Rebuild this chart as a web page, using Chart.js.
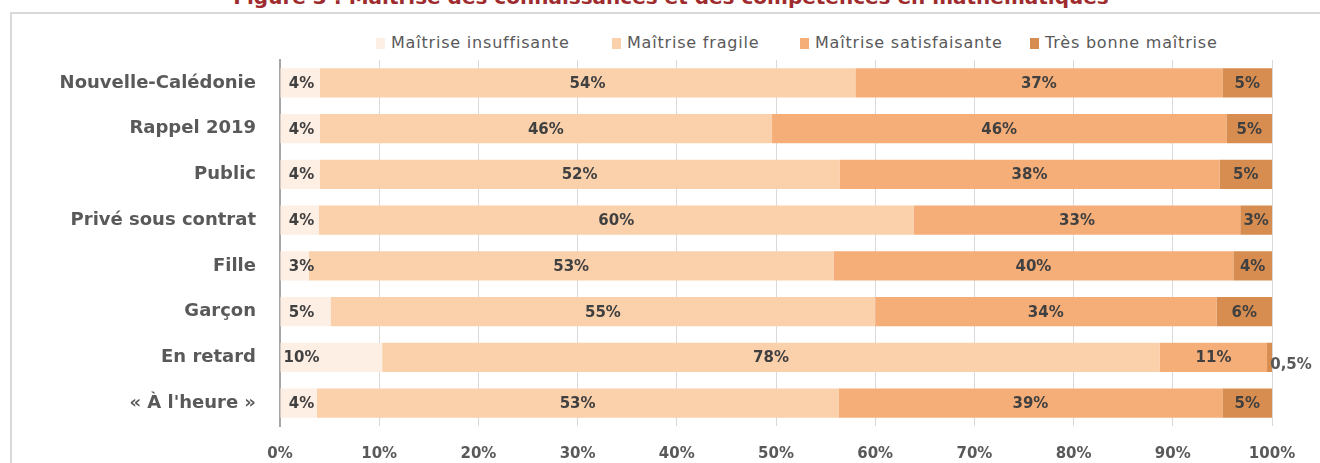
<!DOCTYPE html>
<html lang="fr">
<head>
<meta charset="utf-8">
<script src="https://cdn.jsdelivr.net/npm/chart.js@4.4.1/dist/chart.umd.min.js"></script>
<style>
  html,body{margin:0;padding:0;background:#fff;width:1320px;height:463px;overflow:hidden;}
  #title{position:absolute;left:0;width:1342px;top:-13px;line-height:20px;text-align:center;font-family:"DejaVu Sans",sans-serif;font-weight:700;font-size:20px;color:#9E2B2E;white-space:nowrap;}
  #frame{position:absolute;left:10px;top:12px;width:1310px;height:460px;border-left:2px solid #d9d9d9;border-top:2px solid #d9d9d9;}
  #legend{position:absolute;top:33px;left:376px;height:22px;font-family:"DejaVu Sans",sans-serif;font-size:16px;letter-spacing:0.8px;color:#595959;white-space:nowrap;}
  #legend span.item{display:inline-block;position:absolute;top:0;}
  #legend i{display:inline-block;width:9px;height:11px;margin-right:6px;vertical-align:-1px;}
  canvas{position:absolute;left:0;top:0;}
</style>
</head>
<body>
<div id="title">Figure 3 : Maîtrise des connaissances et des compétences en mathématiques</div>
<div id="frame"></div>
<div id="legend"></div>
<canvas id="c" width="1320" height="463"></canvas>
<script>
const categories = ["Nouvelle-Calédonie","Rappel 2019","Public","Privé sous contrat","Fille","Garçon","En retard","« À l'heure »"];
const seriesNames = ["Maîtrise insuffisante","Maîtrise fragile","Maîtrise satisfaisante","Très bonne maîtrise"];
const insuffisante  = [4.0, 4.0, 4.0, 3.9, 2.9, 5.1, 10.3, 3.7];
const fragile       = [54.0, 45.6, 52.4, 60.0, 52.9, 54.9, 78.4, 52.6];
const satisfaisante = [37.0, 45.8, 38.3, 32.9, 40.3, 34.4, 10.8, 38.7];
const tresBonne     = [5.0, 4.6, 5.3, 3.2, 3.9, 5.6, 0.5, 5.0];
const xTicks = [0,10,20,30,40,50,60,70,80,90,100];
const colors = ["#FEEFE4","#FBD1AC","#F6AE78","#D88D50"];

const values = [insuffisante, fragile, satisfaisante, tresBonne];

// HTML legend
const legendPos = [0, 236, 424, 654];
const lg = document.getElementById('legend');
seriesNames.forEach((n,i)=>{
  const s = document.createElement('span');
  s.className='item';
  s.style.left = legendPos[i]+'px';
  s.innerHTML = '<i style="background:'+colors[i]+'"></i>'+n;
  lg.appendChild(s);
});

const fmt = v => (v < 1 ? String(v).replace('.', ',') : Math.round(v)) + '%';
const LABEL_FONT = '"DejaVu Sans", sans-serif';

const labelPlugin = {
  id:'segLabels',
  afterDatasetsDraw(chart){
    const ctx = chart.ctx;
    ctx.save();
    ctx.font = 'bold 15px ' + LABEL_FONT;
    ctx.fillStyle = '#404040';
    ctx.textBaseline = 'middle';
    ctx.textAlign = 'center';
    chart.data.datasets.forEach((ds, di)=>{
      const meta = chart.getDatasetMeta(di);
      meta.data.forEach((el, idx)=>{
        const v = ds.data[idx];
        const t = fmt(v);
        if (v < 1) {
          ctx.fillStyle = '#595959';
          ctx.fillText(t, el.x + 19, el.y + 8);
          ctx.fillStyle = '#404040';
        } else if (di === 0) {
          ctx.fillText(t, el.base + 21, el.y + 1);
        } else {
          ctx.fillText(t, (el.x + el.base) / 2, el.y + 1);
        }
      });
    });
    ctx.restore();
  }
};

function build(){
  new Chart(document.getElementById('c'), {
    type:'bar',
    data:{
      labels: categories,
      datasets: values.map((arr,i)=>({
        label: seriesNames[i],
        data: arr,
        backgroundColor: colors[i],
        borderWidth: 0,
        barPercentage: 0.64,
        categoryPercentage: 1.0
      }))
    },
    options:{
      indexAxis:'y',
      responsive:false,
      devicePixelRatio:1,
      animation:false,
      layout:{padding:{top:60,right:48,bottom:0,left:0}},
      plugins:{legend:{display:false},tooltip:{enabled:false}},
      scales:{
        x:{
          stacked:true, min:0, max:100,
          afterBuildTicks(s){ s.ticks = xTicks.map(v=>({value:v})); },
          afterFit(s){ s.height = 37; },
          grid:{color:'#d9d9d9', lineWidth:1, drawTicks:false},
          border:{display:false},
          ticks:{padding:19, color:'#595959', font:{family:LABEL_FONT, weight:'bold', size:15}, callback:v=>v+'%'}
        },
        y:{
          stacked:true,
          afterFit(s){ s.width = 280; },
          grid:{display:false, drawTicks:false},
          border:{display:true, color:'#a6a6a6', width:2},
          ticks:{padding:24, color:'#595959', font:{family:LABEL_FONT, weight:'bold', size:18}}
        }
      }
    },
    plugins:[labelPlugin]
  });
}

document.fonts.load('bold 18px "DejaVu Sans"').then(build, build);
</script>
</body>
</html>
